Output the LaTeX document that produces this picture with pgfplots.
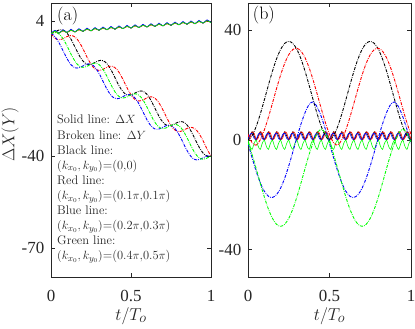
\documentclass[border=0pt]{standalone}
\usepackage{fontspec}
\usepackage{pgfplots}
\usepackage{pgfplotstable}
\pgfplotsset{compat=1.18}
\newfontfamily\tickfont{Liberation Serif}
\definecolor{mgreen}{rgb}{0,1,0}
\definecolor{mred}{rgb}{1,0,0}
\definecolor{mblue}{rgb}{0,0,1}
\definecolor{axgray}{rgb}{0.15,0.15,0.15}

% t, panel (a) broken lines (dk..dg), panel (b) solid lines (sk..sg)
\pgfplotstableread{
t dk dr db dg sk sr sb sg
0 0 0 0 0 0 0 0 0
0.0125 0.25 -0.88 -0.37 0.25 1.5 0.70 2.03 -2.27
0.025 0.59 -1.52 -1.00 0.35 3 2.92 2.37 -3.42
0.0375 0.92 -1.88 -1.88 0.23 1.5 2.50 0.57 -1.23
0.05 1.17 -2.00 -2.98 -0.13 0 0.28 0.23 -0.08
0.0625 1.27 -1.90 -4.23 -0.77 1.5 0.70 2.03 -2.27
0.075 1.16 -1.65 -5.57 -1.65 3 2.92 2.37 -3.42
0.0875 0.79 -1.32 -6.90 -2.75 1.5 2.50 0.57 -1.23
0.1 0.16 -0.98 -8.16 -4.00 0 0.28 0.23 -0.08
0.1125 -0.73 -0.73 -9.25 -5.33 1.5 0.70 2.03 -2.27
0.125 -1.83 -0.63 -10.14 -6.67 3 2.92 2.37 -3.42
0.1375 -3.08 -0.75 -10.77 -7.92 1.5 2.50 0.57 -1.23
0.15 -4.41 -1.12 -11.14 -9.02 0 0.28 0.23 -0.08
0.1625 -5.75 -1.75 -11.25 -9.90 1.5 0.70 2.03 -2.27
0.175 -7.00 -2.63 -11.16 -10.53 3 2.92 2.37 -3.42
0.1875 -8.10 -3.73 -10.90 -10.90 1.5 2.50 0.57 -1.23
0.2 -8.98 -4.98 -10.57 -11.02 0 0.28 0.23 -0.08
0.2125 -9.61 -6.32 -10.23 -10.92 1.5 0.70 2.03 -2.27
0.225 -9.98 -7.65 -9.98 -10.67 3 2.92 2.37 -3.42
0.2375 -10.10 -8.90 -9.88 -10.33 1.5 2.50 0.57 -1.23
0.25 -10 -10 -10 -10 0 0.28 0.23 -0.08
0.2625 -9.75 -10.88 -10.37 -9.75 1.5 0.70 2.03 -2.27
0.275 -9.41 -11.52 -11.00 -9.65 3 2.92 2.37 -3.42
0.2875 -9.08 -11.88 -11.88 -9.77 1.5 2.50 0.57 -1.23
0.3 -8.83 -12.00 -12.98 -10.13 0 0.28 0.23 -0.08
0.3125 -8.73 -11.90 -14.23 -10.77 1.5 0.70 2.03 -2.27
0.325 -8.84 -11.65 -15.57 -11.65 3 2.92 2.37 -3.42
0.3375 -9.21 -11.32 -16.90 -12.75 1.5 2.50 0.57 -1.23
0.35 -9.84 -10.98 -18.16 -14.00 0 0.28 0.23 -0.08
0.3625 -10.73 -10.73 -19.25 -15.33 1.5 0.70 2.03 -2.27
0.375 -11.83 -10.63 -20.14 -16.67 3 2.92 2.37 -3.42
0.3875 -13.08 -10.75 -20.77 -17.92 1.5 2.50 0.57 -1.23
0.4 -14.41 -11.12 -21.14 -19.02 0 0.28 0.23 -0.08
0.4125 -15.75 -11.75 -21.25 -19.90 1.5 0.70 2.03 -2.27
0.425 -17.00 -12.63 -21.16 -20.53 3 2.92 2.37 -3.42
0.4375 -18.10 -13.73 -20.90 -20.90 1.5 2.50 0.57 -1.23
0.45 -18.98 -14.98 -20.57 -21.02 0 0.28 0.23 -0.08
0.4625 -19.61 -16.32 -20.23 -20.92 1.5 0.70 2.03 -2.27
0.475 -19.98 -17.65 -19.98 -20.67 3 2.92 2.37 -3.42
0.4875 -20.10 -18.90 -19.88 -20.33 1.5 2.50 0.57 -1.23
0.5 -20 -20 -20 -20 0 0.28 0.23 -0.08
0.5125 -19.75 -20.88 -20.37 -19.75 1.5 0.70 2.03 -2.27
0.525 -19.41 -21.52 -21.00 -19.65 3 2.92 2.37 -3.42
0.5375 -19.08 -21.88 -21.88 -19.77 1.5 2.50 0.57 -1.23
0.55 -18.83 -22.00 -22.98 -20.13 0 0.28 0.23 -0.08
0.5625 -18.73 -21.90 -24.23 -20.77 1.5 0.70 2.03 -2.27
0.575 -18.84 -21.65 -25.57 -21.65 3 2.92 2.37 -3.42
0.5875 -19.21 -21.32 -26.90 -22.75 1.5 2.50 0.57 -1.23
0.6 -19.84 -20.98 -28.16 -24.00 0 0.28 0.23 -0.08
0.6125 -20.73 -20.73 -29.25 -25.33 1.5 0.70 2.03 -2.27
0.625 -21.83 -20.63 -30.14 -26.67 3 2.92 2.37 -3.42
0.6375 -23.08 -20.75 -30.77 -27.92 1.5 2.50 0.57 -1.23
0.65 -24.41 -21.12 -31.14 -29.02 0 0.28 0.23 -0.08
0.6625 -25.75 -21.75 -31.25 -29.90 1.5 0.70 2.03 -2.27
0.675 -27.00 -22.63 -31.16 -30.53 3 2.92 2.37 -3.42
0.6875 -28.10 -23.73 -30.90 -30.90 1.5 2.50 0.57 -1.23
0.7 -28.98 -24.98 -30.57 -31.02 0 0.28 0.23 -0.08
0.7125 -29.61 -26.32 -30.23 -30.92 1.5 0.70 2.03 -2.27
0.725 -29.98 -27.65 -29.98 -30.67 3 2.92 2.37 -3.42
0.7375 -30.10 -28.90 -29.88 -30.33 1.5 2.50 0.57 -1.23
0.75 -30 -30 -30 -30 0 0.28 0.23 -0.08
0.7625 -29.75 -30.88 -30.37 -29.75 1.5 0.70 2.03 -2.27
0.775 -29.41 -31.52 -31.00 -29.65 3 2.92 2.37 -3.42
0.7875 -29.08 -31.88 -31.88 -29.77 1.5 2.50 0.57 -1.23
0.8 -28.83 -32.00 -32.98 -30.13 0 0.28 0.23 -0.08
0.8125 -28.73 -31.90 -34.23 -30.77 1.5 0.70 2.03 -2.27
0.825 -28.84 -31.65 -35.57 -31.65 3 2.92 2.37 -3.42
0.8375 -29.21 -31.32 -36.90 -32.75 1.5 2.50 0.57 -1.23
0.85 -29.84 -30.98 -38.16 -34.00 0 0.28 0.23 -0.08
0.8625 -30.73 -30.73 -39.25 -35.33 1.5 0.70 2.03 -2.27
0.875 -31.83 -30.63 -40.14 -36.67 3 2.92 2.37 -3.42
0.8875 -33.08 -30.75 -40.77 -37.92 1.5 2.50 0.57 -1.23
0.9 -34.41 -31.12 -41.14 -39.02 0 0.28 0.23 -0.08
0.9125 -35.75 -31.75 -41.25 -39.90 1.5 0.70 2.03 -2.27
0.925 -37.00 -32.63 -41.16 -40.53 3 2.92 2.37 -3.42
0.9375 -38.10 -33.73 -40.90 -40.90 1.5 2.50 0.57 -1.23
0.95 -38.98 -34.98 -40.57 -41.02 0 0.28 0.23 -0.08
0.9625 -39.61 -36.32 -40.23 -40.92 1.5 0.70 2.03 -2.27
0.975 -39.98 -37.65 -39.98 -40.67 3 2.92 2.37 -3.42
0.9875 -40.10 -38.90 -39.88 -40.33 1.5 2.50 0.57 -1.23
1 -40 -40 -40 -40 0 0.28 0.23 -0.08
}\tabA

% t, panel (a) solid lines (xk..xg), panel (b) broken lines (yk..yg)
\pgfplotstableread{
t xk xr xb xg yk yr yb yg
0 0 0 0 0 0 2.05 -1.23 -0.82
0.025 0.89 0.69 1.09 0.79 1.54 -0.96 -6.45 -5.27
0.05 0.18 0.18 0.18 0.18 4.89 -1.90 -11.35 -10.38
0.075 1.07 0.87 1.27 0.97 9.40 0.06 -15.53 -15.70
0.1 0.36 0.36 0.36 0.36 14.59 3.64 -18.67 -20.76
0.125 1.25 1.05 1.45 1.15 19.97 8.26 -20.53 -25.18
0.15 0.54 0.54 0.54 0.54 25.11 13.45 -20.97 -28.60
0.175 1.43 1.23 1.63 1.33 29.59 18.74 -19.95 -30.76
0.2 0.72 0.72 0.72 0.72 33.06 23.71 -17.56 -31.5
0.225 1.61 1.41 1.81 1.51 35.25 27.95 -13.96 -30.76
0.25 0.90 0.90 0.90 0.90 36 31.14 -9.45 -28.60
0.275 1.79 1.59 1.99 1.69 35.25 33.02 -4.38 -25.18
0.3 1.08 1.08 1.08 1.08 33.06 33.47 0.86 -20.76
0.325 1.97 1.77 2.17 1.87 29.59 32.44 5.80 -15.70
0.35 1.26 1.26 1.26 1.26 25.11 30.01 10.00 -10.38
0.375 2.15 1.95 2.35 2.05 19.97 26.36 12.97 -5.27
0.4 1.44 1.44 1.44 1.44 14.59 21.79 13.90 -0.82
0.425 2.33 2.13 2.53 2.23 9.40 16.64 11.97 2.48
0.45 1.62 1.62 1.62 1.62 4.89 11.33 8.44 4
0.475 2.51 2.31 2.71 2.41 1.54 6.31 3.89 2.48
0.5 1.80 1.80 1.80 1.80 0 2.05 -1.23 -0.82
0.525 2.69 2.49 2.89 2.59 1.54 -0.96 -6.45 -5.27
0.55 1.98 1.98 1.98 1.98 4.89 -1.90 -11.35 -10.38
0.575 2.87 2.67 3.07 2.77 9.40 0.06 -15.53 -15.70
0.6 2.16 2.16 2.16 2.16 14.59 3.64 -18.67 -20.76
0.625 3.05 2.85 3.25 2.95 19.97 8.26 -20.53 -25.18
0.65 2.34 2.34 2.34 2.34 25.11 13.45 -20.97 -28.60
0.675 3.23 3.03 3.43 3.13 29.59 18.74 -19.95 -30.76
0.7 2.52 2.52 2.52 2.52 33.06 23.71 -17.56 -31.5
0.725 3.41 3.21 3.61 3.31 35.25 27.95 -13.96 -30.76
0.75 2.70 2.70 2.70 2.70 36 31.14 -9.45 -28.60
0.775 3.59 3.39 3.79 3.49 35.25 33.02 -4.38 -25.18
0.8 2.88 2.88 2.88 2.88 33.06 33.47 0.86 -20.76
0.825 3.77 3.57 3.97 3.67 29.59 32.44 5.80 -15.70
0.85 3.06 3.06 3.06 3.06 25.11 30.01 10.00 -10.38
0.875 3.95 3.75 4.15 3.85 19.97 26.36 12.97 -5.27
0.9 3.24 3.24 3.24 3.24 14.59 21.79 13.90 -0.82
0.925 4.13 3.93 4.33 4.03 9.40 16.64 11.97 2.48
0.95 3.42 3.42 3.42 3.42 4.89 11.33 8.44 4
0.975 4.31 4.11 4.51 4.21 1.54 6.31 3.89 2.48
1 3.60 3.60 3.60 3.60 0 2.05 -1.23 -0.82
}\tabB

\pgfplotsset{
  myax/.style={
    scale only axis, height=274bp, anchor=south west,
    xmin=0, xmax=1, xtick={0,0.5,1}, xticklabels={0,0.5,1},
    tick align=inside, major tick length=4bp,
    axis line style={draw=axgray, line width=0.9bp},
    every tick/.style={draw=axgray, line width=0.8bp},
    ticklabel style={font=\tickfont\fontsize{17}{17}\selectfont, text=axgray, inner sep=0pt},
    xticklabel style={yshift=-13bp},
    yticklabel style={xshift=-6.5bp},
    label style={font=\fontsize{19}{19}\selectfont, text=axgray},
    xlabel={$t/T_o$},
    xlabel style={at={(axis description cs:0.5,-0.142)}, anchor=center},
  },
  dd/.style={line width=0.9bp, dash pattern=on 3bp off 1.2bp on 0.7bp off 1.2bp, smooth},
  ss/.style={line width=0.6bp, smooth},
}
\tikzset{ann/.style={anchor=base west, inner sep=0pt, font=\fontsize{12.5}{15}\selectfont, text=axgray}}

\begin{document}
\begin{tikzpicture}
\path[use as bounding box] (0bp,0bp) rectangle (415bp,329bp);

\begin{axis}[myax, at={(51bp,52bp)}, width=160bp,
  ymin=-79.5, ymax=10, ytick={-70,-40,4}, yticklabels={-70,-40,4},
  ylabel={$\Delta X(Y)$},
  ylabel style={at={(axis description cs:-0.256,0.52)}, anchor=center}]
\addplot[dd, black] table[x=t, y=dk] {\tabA};
\addplot[dd, mred] table[x=t, y=dr] {\tabA};
\addplot[dd, mblue] table[x=t, y=db] {\tabA};
\addplot[dd, mgreen] table[x=t, y=dg] {\tabA};
\addplot[ss, black] table[x=t, y=xk] {\tabB};
\addplot[ss, mred] table[x=t, y=xr] {\tabB};
\addplot[ss, mblue] table[x=t, y=xb] {\tabB};
\addplot[ss, mgreen] table[x=t, y=xg] {\tabB};
\node[anchor=west, inner sep=0pt, font=\fontsize{18}{18}\selectfont] at (rel axis cs:0.0375,0.953) {(a)};
\node[ann] at (rel axis cs:0.0375,0.5584) {Solid line: $\Delta X$};
\node[ann] at (rel axis cs:0.0375,0.5033) {Broken line: $\Delta Y$};
\node[ann] at (rel axis cs:0.0375,0.4482) {Black line:};
\node[ann] at (rel axis cs:0.0375,0.3934) {$(k_{x_0},k_{y_0})$=(0,0)};
\node[ann] at (rel axis cs:0.0375,0.3383) {Red line:};
\node[ann] at (rel axis cs:0.0375,0.2832) {$(k_{x_0},k_{y_0})$=(0.1$\pi$,0.1$\pi$)};
\node[ann] at (rel axis cs:0.0375,0.2281) {Blue line:};
\node[ann] at (rel axis cs:0.0375,0.1730) {$(k_{x_0},k_{y_0})$=(0.2$\pi$,0.3$\pi$)};
\node[ann] at (rel axis cs:0.0375,0.1182) {Green line:};
\node[ann] at (rel axis cs:0.0375,0.0631) {$(k_{x_0},k_{y_0})$=(0.4$\pi$,0.5$\pi$)};
\end{axis}

\begin{axis}[myax, at={(248bp,52bp)}, width=163bp,
  ymin=-50, ymax=50, ytick={-40,0,40}, yticklabels={-40,0,40}]
\addplot[ss, black] table[x=t, y=sk] {\tabA};
\addplot[ss, mred] table[x=t, y=sr] {\tabA};
\addplot[ss, mblue] table[x=t, y=sb] {\tabA};
\addplot[ss, mgreen] table[x=t, y=sg] {\tabA};
\addplot[dd, black] table[x=t, y=yk] {\tabB};
\addplot[dd, mred] table[x=t, y=yr] {\tabB};
\addplot[dd, mblue] table[x=t, y=yb] {\tabB};
\addplot[dd, mgreen] table[x=t, y=yg] {\tabB};
\node[anchor=west, inner sep=0pt, font=\fontsize{18}{18}\selectfont] at (rel axis cs:0.029,0.956) {(b)};
\end{axis}
\end{tikzpicture}
\end{document}
